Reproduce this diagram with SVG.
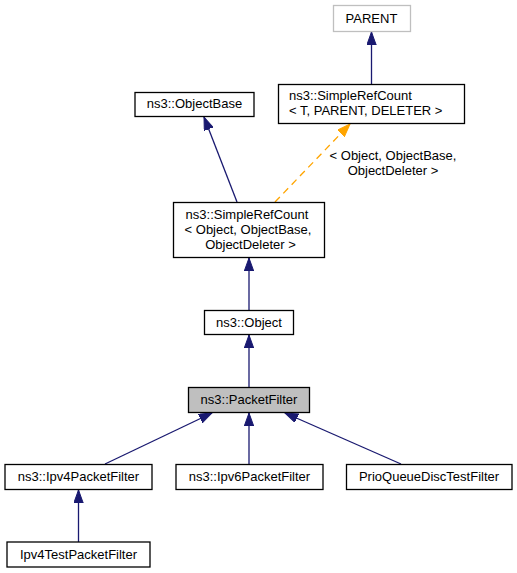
<svg xmlns="http://www.w3.org/2000/svg" width="517" height="573" viewBox="0 0 517 573">
<style>
.box{fill:#ffffff;stroke:#000000;stroke-width:1.3}
.grey{fill:#ffffff;stroke:#bfbfbf;stroke-width:1.3}
.sel{fill:#bfbfbf;stroke:#000000;stroke-width:1.3}
text{font-family:"Liberation Sans",Arial,sans-serif;font-size:13px;fill:#000000;text-anchor:middle}
.edge{fill:none;stroke:#191970;stroke-width:1.3}
.tmpl{fill:none;stroke:#ffa500;stroke-width:1.3;stroke-dasharray:7,5}
</style>
<defs>
<marker id="ab" markerUnits="userSpaceOnUse" markerWidth="14" markerHeight="10" refX="13" refY="4.7" orient="auto">
<path d="M0,0 L13,4.7 L0,9.4 Z" fill="#191970" stroke="#191970" stroke-width="1"/>
</marker>
<marker id="ao" markerUnits="userSpaceOnUse" markerWidth="14" markerHeight="10" refX="13" refY="4.7" orient="auto">
<path d="M0,0 L13,4.7 L0,9.4 Z" fill="#ffa500" stroke="#ffa500" stroke-width="1"/>
</marker>
</defs>
<g id="connectors">
<line class="edge" x1="371.5" y1="84" x2="371.5" y2="32" marker-end="url(#ab)"/>
<line class="edge" x1="237" y1="202" x2="204" y2="117" marker-end="url(#ab)"/>
<line class="tmpl" x1="275" y1="202" x2="350" y2="124" marker-end="url(#ao)"/>
<text x="393" y="160">&lt; Object, ObjectBase,</text>
<text x="393" y="175">ObjectDeleter &gt;</text>
<line class="edge" x1="249" y1="310" x2="249" y2="258" marker-end="url(#ab)"/>
<line class="edge" x1="249" y1="387" x2="249" y2="335" marker-end="url(#ab)"/>
<line class="edge" x1="105" y1="464" x2="212" y2="413" marker-end="url(#ab)"/>
<line class="edge" x1="249" y1="464" x2="249" y2="413" marker-end="url(#ab)"/>
<line class="edge" x1="401" y1="464" x2="285" y2="413" marker-end="url(#ab)"/>
<line class="edge" x1="78.5" y1="542" x2="78.5" y2="490" marker-end="url(#ab)"/>
</g>
<g id="parent">
<rect class="grey" x="333.5" y="5.5" width="77" height="26"/>
<text x="371.5" y="22.5">PARENT</text>
</g>
<g id="simplerefcount_t">
<rect class="box" x="278.5" y="84.5" width="186" height="39"/>
<text x="289" y="100" style="text-anchor:start">ns3::SimpleRefCount</text>
<text x="289" y="115" style="text-anchor:start">&lt; T, PARENT, DELETER &gt;</text>
</g>
<g id="objectbase">
<rect class="box" x="135" y="92.5" width="119" height="24"/>
<text x="194.5" y="107.5">ns3::ObjectBase</text>
</g>
<g id="simplerefcount_object">
<rect class="box" x="173.5" y="202.5" width="151" height="55"/>
<text x="247" y="218.5">ns3::SimpleRefCount</text>
<text x="248" y="233.5">&lt; Object, ObjectBase,</text>
<text x="250.5" y="248.5">ObjectDeleter &gt;</text>
</g>
<g id="object">
<rect class="box" x="204.5" y="310.5" width="89" height="24"/>
<text x="249" y="326.5">ns3::Object</text>
</g>
<g id="packetfilter">
<rect class="sel" x="188.5" y="387.5" width="121" height="25"/>
<text x="249" y="404">ns3::PacketFilter</text>
</g>
<g id="ipv4packetfilter">
<rect class="box" x="5" y="464.5" width="147" height="25"/>
<text x="78.5" y="481">ns3::Ipv4PacketFilter</text>
</g>
<g id="ipv6packetfilter">
<rect class="box" x="176" y="464.5" width="147" height="25"/>
<text x="249.5" y="481">ns3::Ipv6PacketFilter</text>
</g>
<g id="prioqueuedisctestfilter">
<rect class="box" x="346.5" y="464.5" width="165.5" height="25"/>
<text x="429" y="481">PrioQueueDiscTestFilter</text>
</g>
<g id="ipv4testpacketfilter">
<rect class="box" x="7" y="542" width="143" height="25"/>
<text x="78.5" y="558.5">Ipv4TestPacketFilter</text>
</g>
</svg>
